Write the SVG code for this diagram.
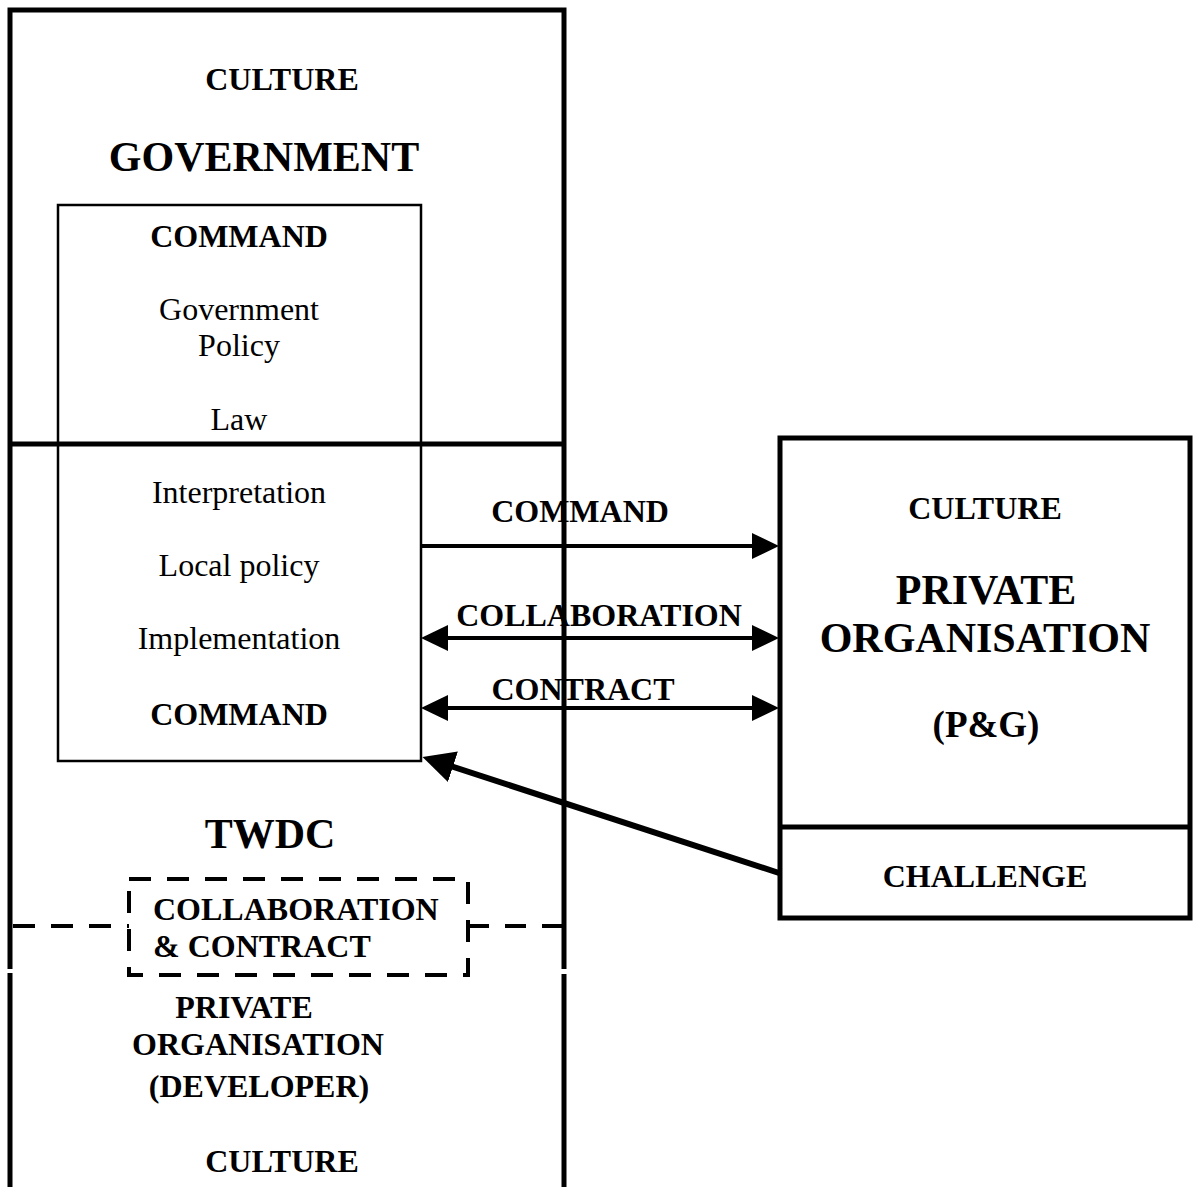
<svg xmlns="http://www.w3.org/2000/svg" width="1198" height="1187" viewBox="0 0 1198 1187">
<style>
.t{font-family:"Liberation Serif","Times New Roman",serif;fill:#000;text-anchor:middle}
.b{font-weight:bold}
.s{font-size:32px}
.l{font-size:42px}
.thick{fill:none;stroke:#000;stroke-width:5}
.thin{fill:none;stroke:#000;stroke-width:2.5}
.dash{fill:none;stroke:#000;stroke-width:4;stroke-dasharray:22 16}
.conn{fill:none;stroke:#000;stroke-width:4}
</style>
<defs>
<marker id="ah" viewBox="0 0 27 26" refX="18" refY="13" markerWidth="27" markerHeight="26" markerUnits="userSpaceOnUse" orient="auto-start-reverse">
<path d="M0,0 L27,13 L0,26 Z" fill="#000"/>
</marker>
<marker id="ahb" viewBox="0 0 32 32" refX="22" refY="16" markerWidth="32" markerHeight="32" markerUnits="userSpaceOnUse" orient="auto">
<path d="M0,0 L32,16 L0,32 Z" fill="#000"/>
</marker>
</defs>
<rect width="1198" height="1187" fill="#fff"/>

<g id="twdc-column">
<path class="thick" d="M10,1187 V10 H564 V1187"/>
<line class="thick" x1="10" y1="444" x2="564" y2="444"/>
<line x1="10" y1="969" x2="10" y2="973" stroke="#fff" stroke-width="7"/>
<line x1="564" y1="969" x2="564" y2="974" stroke="#fff" stroke-width="7"/>
<text class="t b s" x="282" y="90">CULTURE</text>
<text class="t b l" x="264" y="171">GOVERNMENT</text>
<text class="t b l" x="270" y="848">TWDC</text>
<text class="t b s" x="244" y="1018">PRIVATE</text>
<text class="t b s" x="258" y="1055">ORGANISATION</text>
<text class="t b s" x="259" y="1097">(DEVELOPER)</text>
<text class="t b s" x="282" y="1172">CULTURE</text>
</g>

<g id="command-box">
<rect class="thin" x="58" y="205" width="363" height="556"/>
<text class="t b s" x="239" y="247">COMMAND</text>
<text class="t s" x="239" y="320">Government</text>
<text class="t s" x="239" y="356">Policy</text>
<text class="t s" x="239" y="430">Law</text>
<text class="t s" x="239" y="503">Interpretation</text>
<text class="t s" x="239" y="576">Local policy</text>
<text class="t s" x="239" y="649">Implementation</text>
<text class="t b s" x="239" y="725">COMMAND</text>
</g>

<g id="collab-contract">
<rect class="dash" x="129" y="879" width="339" height="96"/>
<line class="dash" x1="13" y1="926" x2="129" y2="926"/>
<line class="dash" x1="468" y1="926" x2="564" y2="926" style="stroke-dasharray:21 16"/>
<text class="t b s" x="153" y="920" style="text-anchor:start">COLLABORATION</text>
<text class="t b s" x="153" y="957" style="text-anchor:start">&amp; CONTRACT</text>
</g>

<g id="pg-box">
<rect class="thick" x="780" y="438" width="410" height="480"/>
<line class="thick" x1="780" y1="827" x2="1190" y2="827"/>
<text class="t b s" x="985" y="519">CULTURE</text>
<text class="t b l" x="986" y="604">PRIVATE</text>
<text class="t b l" x="985" y="652">ORGANISATION</text>
<text class="t b" x="986" y="737" style="font-size:37px">(P&amp;G)</text>
<text class="t b s" x="985" y="887">CHALLENGE</text>
</g>

<g id="connectors">
<line class="conn" x1="421" y1="546" x2="770" y2="546" marker-end="url(#ah)"/>
<line class="conn" x1="430" y1="638" x2="770" y2="638" marker-start="url(#ah)" marker-end="url(#ah)"/>
<line class="conn" x1="430" y1="708" x2="770" y2="708" marker-start="url(#ah)" marker-end="url(#ah)"/>
<line x1="779" y1="873" x2="432" y2="760" stroke="#000" stroke-width="6" marker-end="url(#ahb)"/>
<text class="t b s" x="580" y="522">COMMAND</text>
<text class="t b s" x="599" y="626">COLLABORATION</text>
<text class="t b s" x="583" y="700">CONTRACT</text>
</g>
</svg>
